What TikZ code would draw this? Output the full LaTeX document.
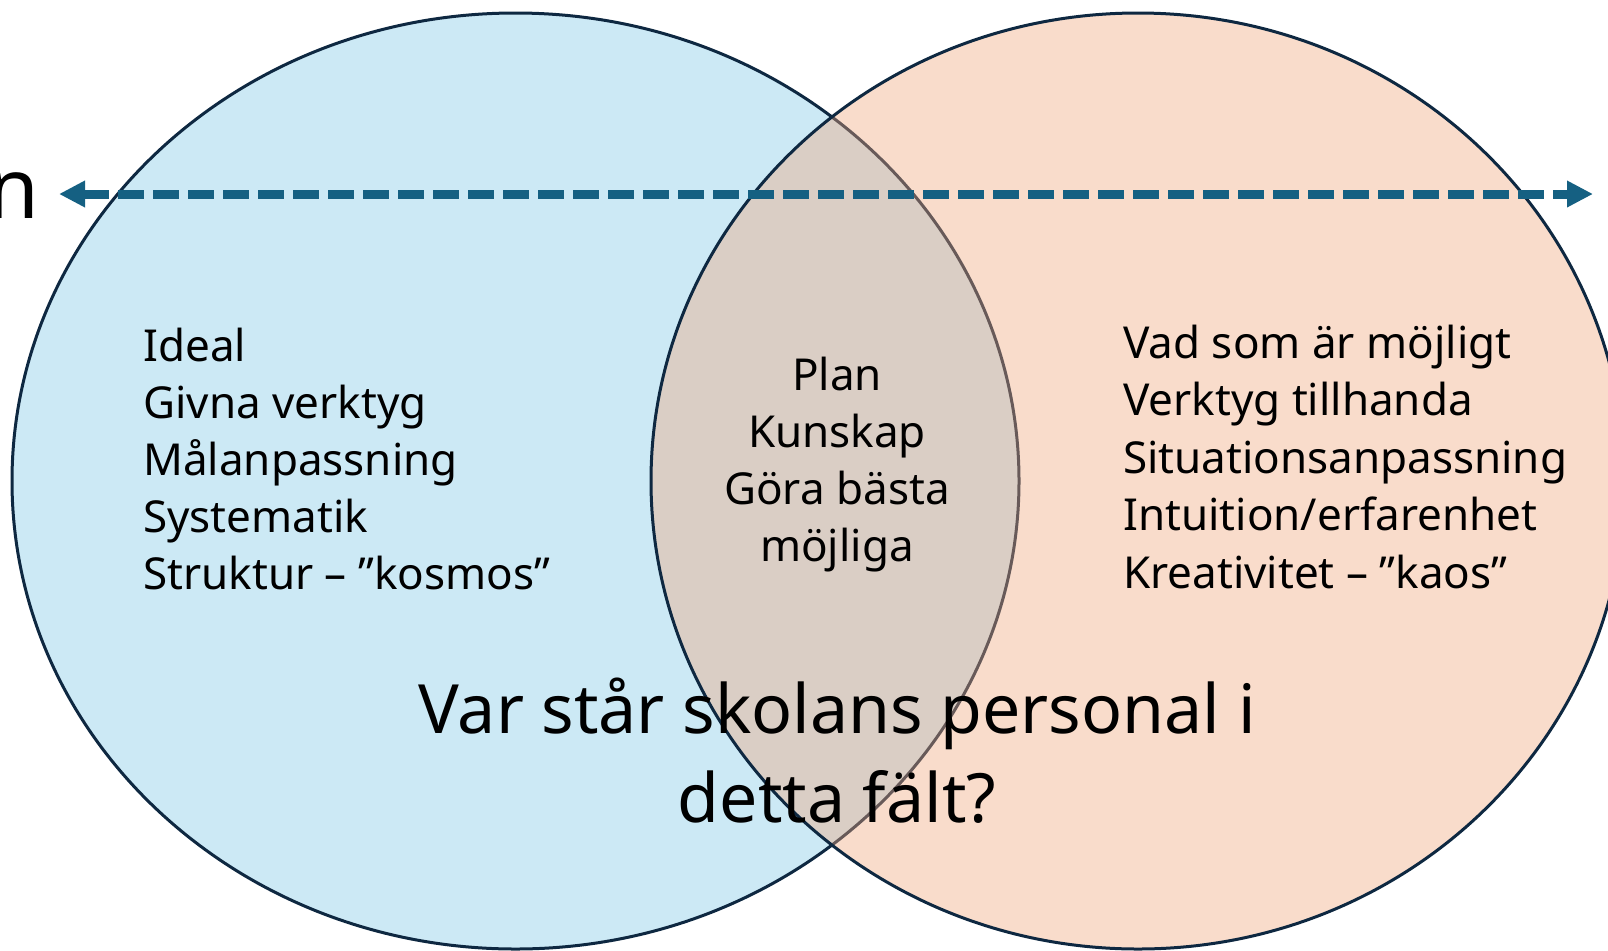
\documentclass[tikz,border=0pt]{standalone}
\usepackage{fontspec}
\setmainfont{Noto Sans}
\usetikzlibrary{arrows.meta}
\definecolor{ringline}{HTML}{0E2841}
\definecolor{idealblue}{HTML}{CCE9F5}
\definecolor{realpeach}{HTML}{F0A77D}
\definecolor{arrowblue}{HTML}{156082}
\tikzset{
  ring/.style={draw=ringline, line width=2.25pt},
  item/.style={inner sep=0pt, text=black, font=\fontsize{33}{40}\selectfont},
  question/.style={inner sep=0pt, anchor=base, text=black, font=\fontsize{51}{60}\selectfont},
}
\begin{document}
\begin{tikzpicture}[x=0.75pt,y=-0.75pt]
  \useasboundingbox (0,0) rectangle (1608,950);
  \begin{scope}
    \clip (0,0) rectangle (1608,950);
    \coordinate (L) at (515.5,481);
    \coordinate (R) at (1138,481);
    \filldraw[ring, fill=idealblue] (L) ellipse (503.5 and 468);
    \fill[realpeach, fill opacity=0.4] (R) ellipse (487 and 468);
    \draw[ring] (R) ellipse (487 and 468);
  \end{scope}
  % skala
  \coordinate (westtip) at (59,194);
  \coordinate (easttip) at (1593,194);
  \draw[arrowblue, line width=6.75pt, dash pattern=on 19.5pt off 6.75pt,
    {Triangle[length=19.5pt,width=18.75pt]}-{Triangle[length=19.5pt,width=18.75pt]}]
    (westtip) -- (easttip);
  \node[anchor=base east, inner sep=0pt, font=\fontsize{63}{70}\selectfont] (cut) at (40,218) {n};
  % listor
  \foreach \t [count=\i] in {Ideal, Givna verktyg, Målanpassning, Systematik, Struktur – ”kosmos”}
    \node[item, anchor=base west] (l\i) at (143, 361+57*\i-57) {\t};
  \foreach \t [count=\i] in {Plan, Kunskap, Göra bästa, möjliga}
    \node[item, anchor=base] (m\i) at (837, 390+57.3*\i-57.3) {\t};
  \foreach \t [count=\i] in {Vad som är möjligt, Verktyg tillhanda, Situationsanpassning, Intuition/erfarenhet, Kreativitet – ”kaos”}
    \node[item, anchor=base west] (r\i) at (1123, 358+57.5*\i-57.5) {\t};
  \node[question] (q1) at (837,733) {Var står skolans personal i};
  \node[question] (q2) at (837,822) {detta fält?};
\end{tikzpicture}
\end{document}
